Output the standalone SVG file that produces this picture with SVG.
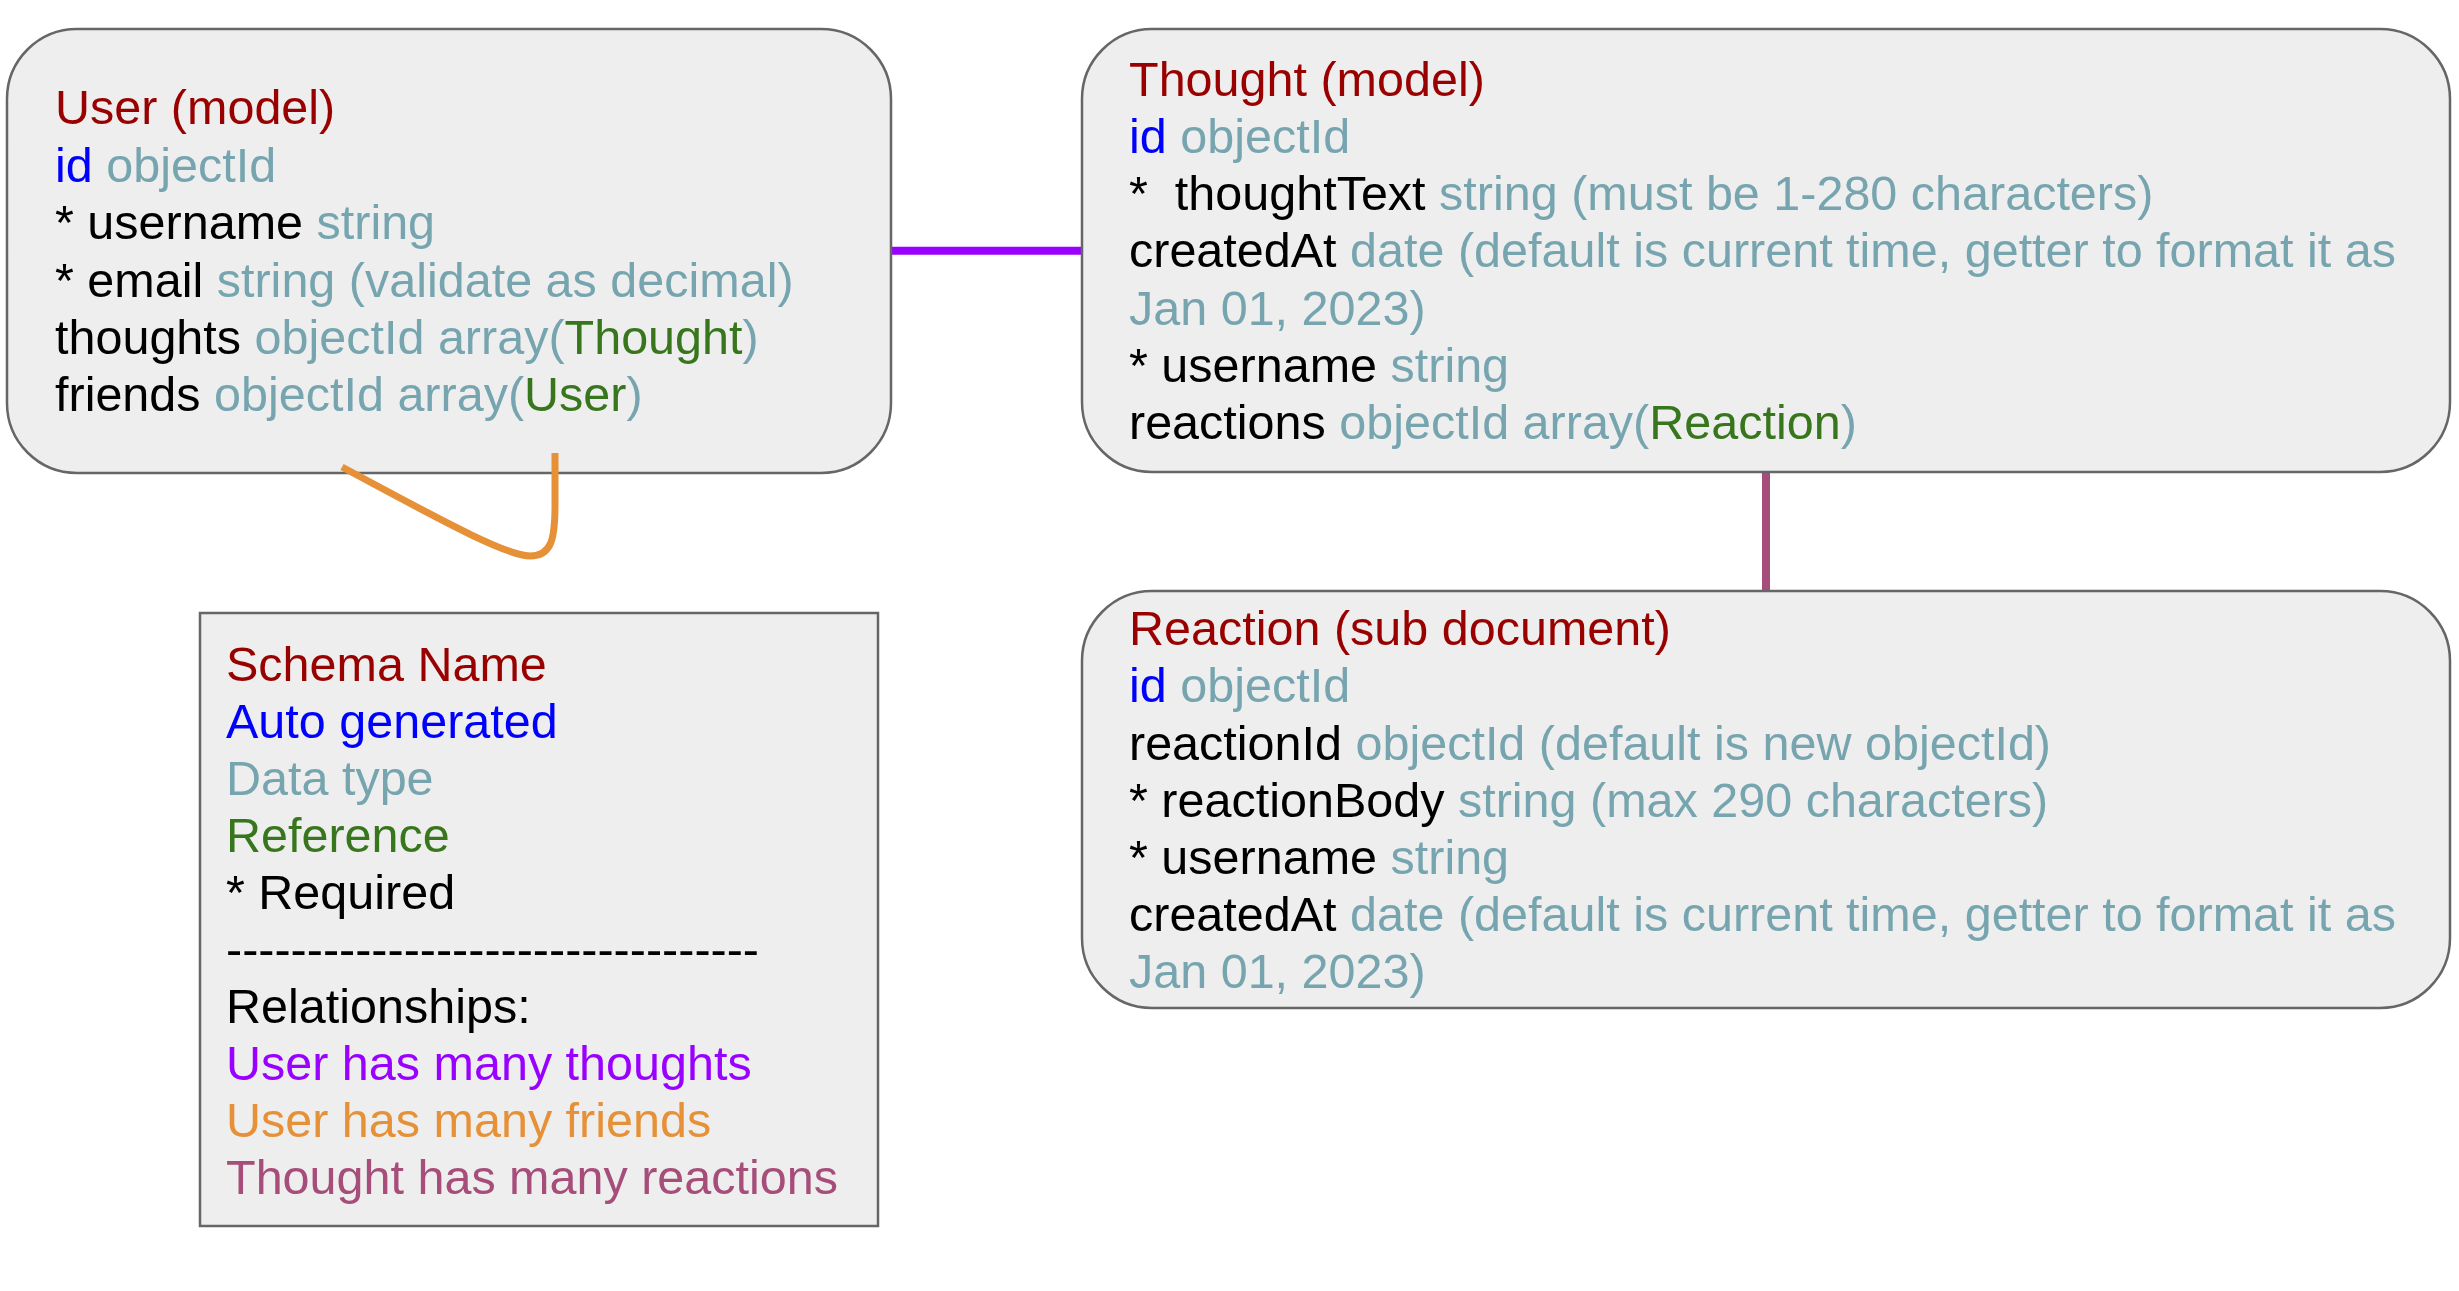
<svg xmlns="http://www.w3.org/2000/svg" width="2459" height="1291" viewBox="0 0 2459 1291">
<style>
text{font-family:"Liberation Sans",Arial,sans-serif;font-size:48.5px;white-space:pre}
.box{fill:#eeeeee;stroke:#666666;stroke-width:2.5}
.n{fill:#990000}.a{fill:#0000ff}.t{fill:#76a5af}.r{fill:#38761d}.k{fill:#000000}
.p{fill:#9900ff}.o{fill:#e69138}.m{fill:#a64d79}
</style>
<rect width="2459" height="1291" fill="#ffffff"/>
<g id="connectors" fill="none">
<line x1="891" y1="250.7" x2="1082" y2="250.7" stroke="#9900ff" stroke-width="8"/>
<line x1="1766" y1="472" x2="1766" y2="591" stroke="#a64d79" stroke-width="8"/>
</g>
<g id="user">
<rect class="box" x="7" y="29" width="884" height="444" rx="70" ry="70"/>
<text x="55"><tspan x="55" y="124" class="n">User (model)</tspan><tspan x="55" y="182" class="a">id <tspan class="t">objectId</tspan></tspan><tspan x="55" y="239" class="k">* username <tspan class="t">string</tspan></tspan><tspan x="55" y="297" class="k">* email <tspan class="t">string (validate as decimal)</tspan></tspan><tspan x="55" y="354" class="k">thoughts <tspan class="t">objectId array(<tspan class="r">Thought</tspan>)</tspan></tspan><tspan x="55" y="411" class="k">friends <tspan class="t">objectId array(<tspan class="r">User</tspan>)</tspan></tspan></text>
</g>
<g id="friends-connector" fill="none">
<path d="M 342 467 C 430 514 505 556 530 556 C 552 556 555 538 555 505 L 555 453" stroke="#e69138" stroke-width="7"/>
</g>
<g id="thought">
<rect class="box" x="1082" y="29" width="1368" height="443" rx="70" ry="70"/>
<text><tspan x="1129" y="96" class="n">Thought (model)</tspan><tspan x="1129" y="153" class="a">id <tspan class="t">objectId</tspan></tspan><tspan x="1129" y="210" class="k">*  thoughtText <tspan class="t">string (must be 1-280 characters)</tspan></tspan><tspan x="1129" y="267" class="k">createdAt <tspan class="t">date (default is current time, getter to format it as</tspan></tspan><tspan x="1129" y="325" class="t">Jan 01, 2023)</tspan><tspan x="1129" y="382" class="k">* username <tspan class="t">string</tspan></tspan><tspan x="1129" y="439" class="k">reactions <tspan class="t">objectId array(<tspan class="r">Reaction</tspan>)</tspan></tspan></text>
</g>
<g id="reaction">
<rect class="box" x="1082" y="591" width="1368" height="417" rx="70" ry="70"/>
<text><tspan x="1129" y="645" class="n">Reaction (sub document)</tspan><tspan x="1129" y="702" class="a">id <tspan class="t">objectId</tspan></tspan><tspan x="1129" y="760" class="k">reactionId <tspan class="t">objectId (default is new objectId)</tspan></tspan><tspan x="1129" y="817" class="k">* reactionBody <tspan class="t">string (max 290 characters)</tspan></tspan><tspan x="1129" y="874" class="k">* username <tspan class="t">string</tspan></tspan><tspan x="1129" y="931" class="k">createdAt <tspan class="t">date (default is current time, getter to format it as</tspan></tspan><tspan x="1129" y="988" class="t">Jan 01, 2023)</tspan></text>
</g>
<g id="legend">
<rect class="box" x="200" y="613" width="678" height="613"/>
<text><tspan x="226" y="681" class="n">Schema Name</tspan><tspan x="226" y="738" class="a">Auto generated</tspan><tspan x="226" y="795" class="t">Data type</tspan><tspan x="226" y="852" class="r">Reference</tspan><tspan x="226" y="909" class="k">* Required</tspan><tspan x="226" y="966" class="k">---------------------------------</tspan><tspan x="226" y="1023" class="k">Relationships:</tspan><tspan x="226" y="1080" class="p">User has many thoughts</tspan><tspan x="226" y="1137" class="o">User has many friends</tspan><tspan x="226" y="1194" class="m">Thought has many reactions</tspan></text>
</g>
</svg>
